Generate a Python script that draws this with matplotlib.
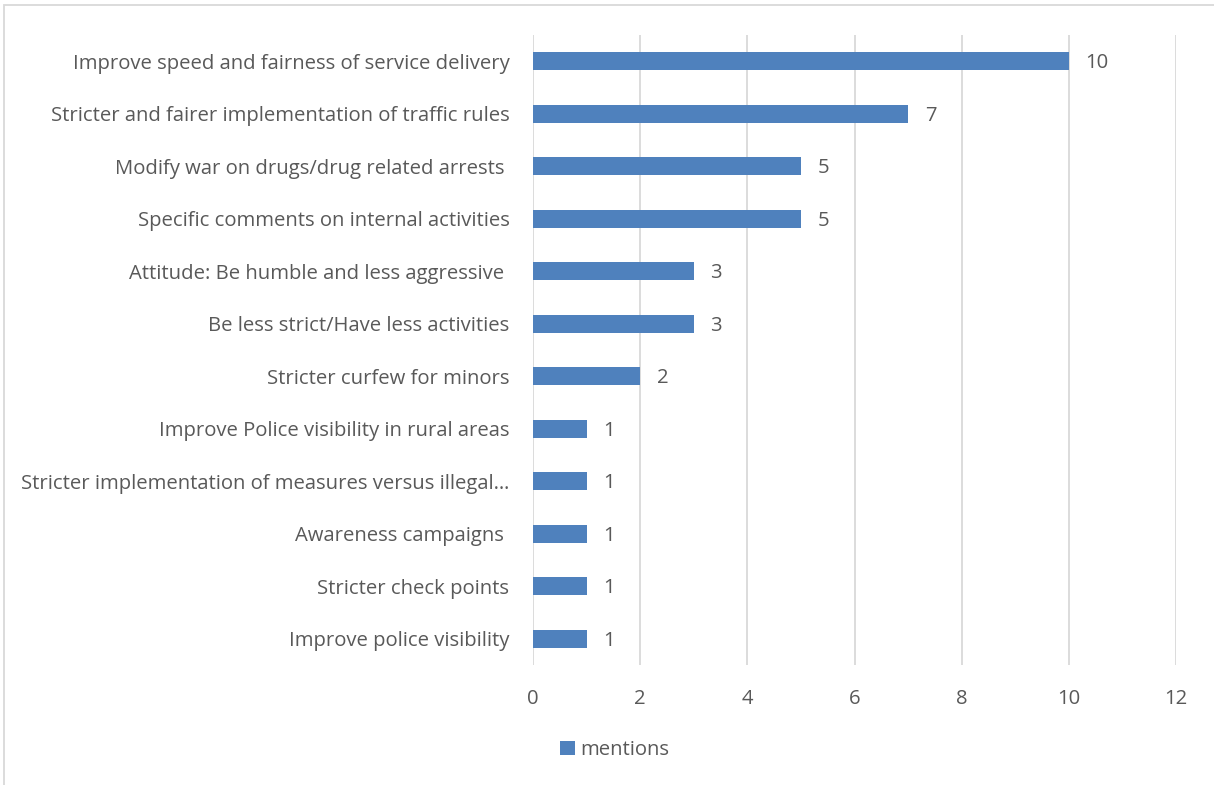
import numpy as np
import matplotlib
matplotlib.use('Agg')
import matplotlib.pyplot as plt
from matplotlib.patches import Rectangle

categories = ['Improve speed and fairness of service delivery',
              'Stricter and fairer implementation of traffic rules',
              'Modify war on drugs/drug related arrests ',
              'Specific comments on internal activities',
              'Attitude: Be humble and less aggressive ',
              'Be less strict/Have less activities',
              'Stricter curfew for minors',
              'Improve Police visibility in rural areas',
              'Stricter implementation of measures versus illegal\u2026',
              'Awareness campaigns ',
              'Stricter check points',
              'Improve police visibility']
mentions = [10, 7, 5, 5, 3, 3, 2, 1, 1, 1, 1, 1]
xticks = [0, 2, 4, 6, 8, 10, 12]

TXT = '#595959'
BAR = '#4F81BD'
GRID = '#D9D9D9'
FS = 14.6

plt.rcParams['font.family'] = ['Open Sans', 'DejaVu Sans']

fig = plt.figure(figsize=(12.14, 7.85), dpi=100)
ax = fig.add_axes([533/1214, 1-665/785, (1176-533)/1214, 630/785])

y = np.arange(len(categories))
ax.barh(y, mentions, height=0.35, color=BAR, label='mentions', zorder=3)
ax.set_ylim(len(categories)-0.5, -0.5)
ax.set_xlim(0, 12)
ax.set_xticks(xticks)
ax.set_xticklabels([str(t) for t in xticks])
ax.set_yticks(y)
ax.set_yticklabels(categories)

ax.tick_params(axis='y', length=0, pad=17, labelsize=FS, labelcolor=TXT)
ax.tick_params(axis='x', length=0, pad=17, labelsize=FS, labelcolor=TXT)
for s in ax.spines.values():
    s.set_visible(False)
ax.grid(axis='x', color=GRID, linewidth=1.3, zorder=0)

# value labels right of the bars
for yi, v in zip(y, mentions):
    ax.annotate(str(v), (v, yi), xytext=(12, -1.5), textcoords='offset points',
                va='center', ha='left', fontsize=FS, color=TXT)

leg = fig.legend(loc='center', bbox_to_anchor=(615/1214, 1-750/785), frameon=False,
                 fontsize=FS, handlelength=0.7, handleheight=0.75, handletextpad=0.3)
for t in leg.get_texts():
    t.set_color(TXT)

# light chart frame like the Excel chart area
fig.patches.append(Rectangle((3.5/1214, -0.1), 1.2, 1-5/785+0.1, transform=fig.transFigure,
                             fill=False, edgecolor=GRID, linewidth=1.3))

fig.savefig('out.png', dpi=100)
